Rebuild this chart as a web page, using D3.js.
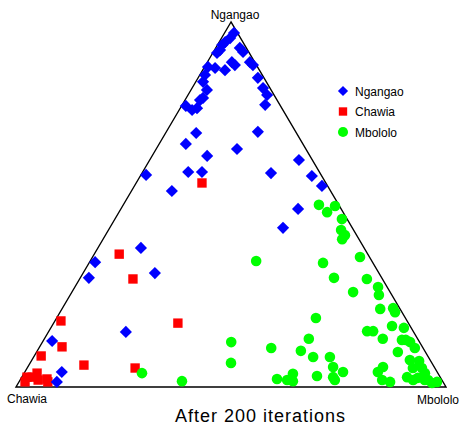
<!DOCTYPE html>
<html>
<head>
<meta charset="utf-8">
<script src="https://cdn.jsdelivr.net/npm/d3@7"></script>
<style>
  body { margin: 0; background: #fff; }
  text { font-family: "Liberation Sans", Arial, sans-serif; fill: #000; }
</style>
</head>
<body>
<div id="chart"></div>
<script>
// ternary compositions: [ngangao, chawia, mbololo]
const vertexLabels = ["Ngangao", "Chawia", "Mbololo"];
const titleText = "After 200 iterations";

const ngangaoPts = [
    [0.970, 0.008, 0.022], [0.956, 0.024, 0.020], [0.945, 0.041, 0.014], [0.937, 0.052, 0.011],
    [0.923, 0.064, 0.013], [0.915, 0.075, 0.010], [0.929, 0.015, 0.056], [0.918, 0.013, 0.069],
    [0.890, 0.011, 0.099], [0.882, 0.008, 0.110], [0.890, 0.053, 0.057], [0.882, 0.050, 0.068],
    [0.868, 0.080, 0.052], [0.874, 0.100, 0.026], [0.877, 0.115, 0.008], [0.855, 0.133, 0.012],
    [0.836, 0.147, 0.017], [0.814, 0.149, 0.037], [0.792, 0.169, 0.039], [0.786, 0.179, 0.035],
    [0.847, 0.014, 0.139], [0.819, 0.016, 0.165], [0.800, 0.016, 0.184], [0.773, 0.034, 0.193],
    [0.770, 0.220, 0.010], [0.759, 0.211, 0.030], [0.764, 0.197, 0.039], [0.696, 0.233, 0.071],
    [0.666, 0.272, 0.062], [0.699, 0.088, 0.213], [0.633, 0.239, 0.128], [0.652, 0.160, 0.188],
    [0.622, 0.031, 0.347], [0.581, 0.407, 0.012], [0.589, 0.305, 0.106], [0.589, 0.273, 0.138],
    [0.586, 0.114, 0.300], [0.578, 0.023, 0.399], [0.551, 0.013, 0.436], [0.537, 0.369, 0.094],
    [0.488, 0.100, 0.412], [0.436, 0.161, 0.403], [0.381, 0.519, 0.100], [0.342, 0.645, 0.013],
    [0.299, 0.681, 0.020], [0.312, 0.521, 0.167], [0.151, 0.669, 0.180], [0.126, 0.853, 0.021],
    [0.041, 0.873, 0.086], [0.014, 0.898, 0.088]
];

const chawiaPts = [
    [0.559, 0.288, 0.153], [0.364, 0.578, 0.058], [0.296, 0.580, 0.124], [0.175, 0.536, 0.289],
    [0.181, 0.805, 0.014], [0.110, 0.838, 0.052], [0.085, 0.899, 0.016], [0.060, 0.812, 0.128],
    [0.052, 0.697, 0.251], [0.027, 0.961, 0.012], [0.014, 0.972, 0.014], [0.038, 0.932, 0.030],
    [0.019, 0.939, 0.042], [0.022, 0.917, 0.061], [0.014, 0.919, 0.067], [0.027, 0.949, 0.024]
];

const mbololoPts = [
    [0.499, 0.046, 0.455], [0.479, 0.037, 0.484], [0.496, 0.010, 0.494], [0.460, 0.012, 0.528],
    [0.430, 0.029, 0.541], [0.416, 0.027, 0.557], [0.405, 0.039, 0.556], [0.345, 0.269, 0.386],
    [0.340, 0.116, 0.544], [0.356, 0.022, 0.622], [0.299, 0.111, 0.590], [0.296, 0.036, 0.668],
    [0.260, 0.086, 0.654], [0.274, 0.021, 0.705], [0.252, 0.030, 0.718], [0.214, 0.046, 0.740],
    [0.216, 0.015, 0.769], [0.205, 0.016, 0.779], [0.189, 0.208, 0.603], [0.132, 0.253, 0.615],
    [0.123, 0.438, 0.439], [0.107, 0.353, 0.540], [0.099, 0.288, 0.613], [0.082, 0.268, 0.650],
    [0.066, 0.467, 0.467], [0.038, 0.688, 0.274], [0.016, 0.606, 0.378], [0.022, 0.382, 0.596],
    [0.019, 0.360, 0.621], [0.036, 0.338, 0.626], [0.016, 0.348, 0.636], [0.030, 0.285, 0.685],
    [0.153, 0.107, 0.740], [0.153, 0.093, 0.754], [0.132, 0.081, 0.787], [0.167, 0.042, 0.791],
    [0.162, 0.017, 0.821], [0.129, 0.038, 0.833], [0.129, 0.029, 0.842], [0.123, 0.022, 0.855],
    [0.107, 0.019, 0.874], [0.096, 0.064, 0.840], [0.074, 0.047, 0.879], [0.071, 0.027, 0.902],
    [0.082, 0.229, 0.689], [0.041, 0.219, 0.740], [0.055, 0.235, 0.710], [0.027, 0.249, 0.724],
    [0.019, 0.249, 0.732], [0.041, 0.138, 0.821], [0.055, 0.119, 0.826], [0.019, 0.139, 0.842],
    [0.014, 0.123, 0.863], [0.027, 0.077, 0.896], [0.052, 0.051, 0.897], [0.025, 0.053, 0.922],
    [0.038, 0.030, 0.932], [0.019, 0.032, 0.949], [0.011, 0.027, 0.962], [0.014, 0.014, 0.972],
    [0.052, 0.030, 0.918], [0.019, 0.040, 0.941], [0.019, 0.067, 0.914]
];

// diamonds are squares turned 45 degrees
const series = [
    { name: "Chawia", pts: chawiaPts, color: "#ff0000", symbol: d3.symbolSquare, size: 88, rot: 0, legendSize: 70 },
    { name: "Ngangao", pts: ngangaoPts, color: "#0000ff", symbol: d3.symbolSquare, size: 74, rot: 45, legendSize: 52 },
    { name: "Mbololo", pts: mbololoPts, color: "#00ff00", symbol: d3.symbolCircle, size: 88, rot: 0, legendSize: 80 }
];
const legendOrder = ["Ngangao", "Chawia", "Mbololo"];

const width = 462, height = 425;

const svg = d3.select("#chart").append("svg")
    .attr("width", width)
    .attr("height", height);

// horizontal position from (mbololo + ngangao/2), vertical from ngangao
const x = d3.scaleLinear().domain([0, 1]).range([16, 446]);
const y = d3.scaleLinear().domain([0, 1]).range([387, 22]);
const px = d => x(d[2] + d[0] / 2);
const py = d => y(d[0]);

const corners = [[1, 0, 0], [0, 1, 0], [0, 0, 1]];

svg.append("path")
    .attr("d", d3.line().x(px).y(py)(corners) + "Z")
    .attr("fill", "none")
    .attr("stroke", "#000")
    .attr("stroke-width", 1.4);

// points
series.forEach(s => {
    svg.append("g").selectAll("path")
        .data(s.pts)
        .join("path")
        .attr("transform", d => `translate(${px(d)},${py(d)}) rotate(${s.rot})`)
        .attr("d", d3.symbol().type(s.symbol).size(s.size))
        .attr("fill", s.color);
});

// vertex labels
svg.append("text").attr("x", px(corners[0]) + 4).attr("y", 19)
    .attr("text-anchor", "middle").style("font-size", "12px").text(vertexLabels[0]);
svg.append("text").attr("x", 7).attr("y", 403)
    .style("font-size", "12px").text(vertexLabels[1]);
svg.append("text").attr("x", 417).attr("y", 404)
    .style("font-size", "12px").text(vertexLabels[2]);

// title
svg.append("text").attr("x", 175).attr("y", 422)
    .style("font-size", "18px").style("letter-spacing", "1px").text(titleText);

// legend
const legend = svg.append("g").attr("transform", "translate(343,91)");
legendOrder.forEach((name, i) => {
    const s = series.find(t => t.name === name);
    const g = legend.append("g").attr("transform", `translate(0,${i * 20.5})`);
    g.append("path")
        .attr("transform", `rotate(${s.rot})`)
        .attr("d", d3.symbol().type(s.symbol).size(s.legendSize))
        .attr("fill", s.color);
    g.append("text").attr("x", 12).attr("y", 4.5)
        .style("font-size", "12px").text(name);
});
</script>
</body>
</html>
